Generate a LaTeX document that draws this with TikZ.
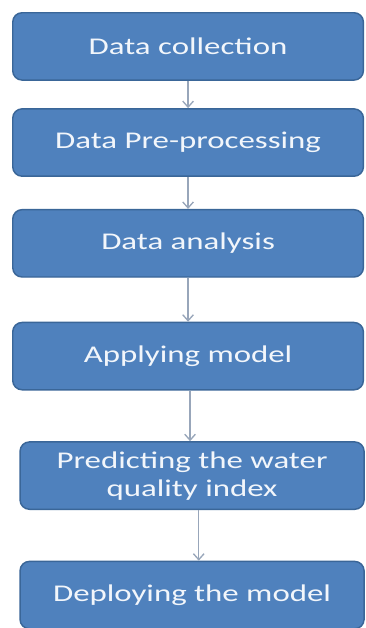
\documentclass[tikz,border=0pt]{standalone}
\usepackage{fontspec}
\newfontfamily\stagefont[FakeStretch=1.37]{Carlito}
\usepackage{tikz}
\usetikzlibrary{arrows.meta,positioning}

\definecolor{stagefill}{HTML}{4F81BD}
\definecolor{stageedge}{HTML}{3A6698}
\definecolor{stagetext}{HTML}{F2F6FB}
\definecolor{flowgrey}{HTML}{98A6BA}

\begin{document}
\begin{tikzpicture}[
    x=0.75pt, y=0.75pt,
    stage/.style={draw=stageedge, line width=1.1pt, fill=stagefill, rounded corners=7pt,
        align=center, text=stagetext, minimum height=50.5pt, minimum width=263pt,
        inner sep=0pt, font=\stagefont\fontsize{18}{21}\selectfont},
    flow/.style={-{Straight Barb[length=4.5pt,width=8pt]}, draw=flowgrey, line width=1pt}
]
\useasboundingbox (0,0) rectangle (365,-628);
\node[stage, anchor=north west] (collect) at (12,-12) {Data collection};
\node[stage, below=20.5pt of collect] (prep) {Data Pre-processing};
\node[stage, below=24pt of prep] (analyse) {Data analysis};
\node[stage, below=33pt of analyse] (apply) {Applying model};
\node[stage, below=38pt of apply, xshift=3pt, minimum width=258pt] (predict)
    {Predicting the water\\quality index};
\node[stage, below=38pt of predict, minimum width=258pt] (deploy) {Deploying the model};
\draw[flow] (collect) -- (prep);
\draw[flow] (prep) -- (analyse);
\draw[flow] (analyse) -- (apply);
\draw[flow] ([xshift=1.5pt]apply.south) -- ([xshift=1.5pt]apply.south |- predict.north);
\draw[flow] ([xshift=5pt]predict.south) -- ([xshift=5pt]deploy.north);
\end{tikzpicture}
\end{document}
